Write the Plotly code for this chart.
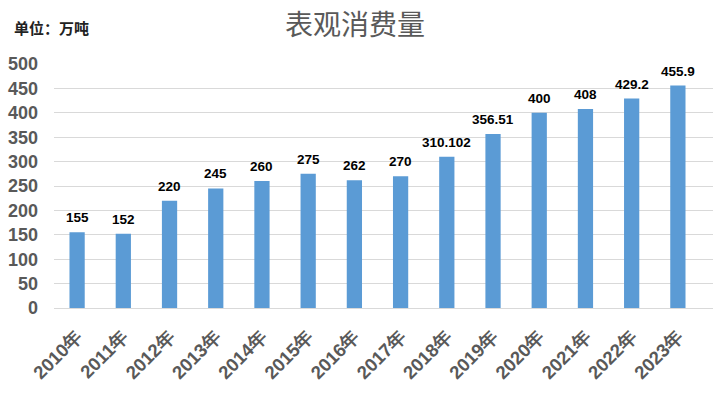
import plotly.graph_objects as go

years = ["2010年", "2011年", "2012年", "2013年", "2014年", "2015年", "2016年",
         "2017年", "2018年", "2019年", "2020年", "2021年", "2022年", "2023年"]
values = [155, 152, 220, 245, 260, 275, 262, 270, 310.102, 356.51, 400, 408, 429.2, 455.9]
labels = ["155", "152", "220", "245", "260", "275", "262", "270", "310.102",
          "356.51", "400", "408", "429.2", "455.9"]
y_ticks = [0, 50, 100, 150, 200, 250, 300, 350, 400, 450, 500]

fig = go.Figure()
fig.add_trace(go.Bar(
    x=years, y=values, marker_color="#5B9BD5", marker_line_width=0,
    width=0.33, hoverinfo="skip",
))

for xv, yv, t in zip(years, values, labels):
    fig.add_annotation(
        x=xv, y=yv, text="<b>%s</b>" % t, showarrow=False,
        yanchor="bottom", yshift=5,
        font=dict(family="Liberation Sans, Arial, sans-serif", size=13.5, color="#000000"),
    )

fig.add_annotation(
    xref="paper", yref="paper", x=0.457, y=1, xanchor="center", yanchor="middle",
    yshift=41, text="表观消费量", showarrow=False, borderpad=0,
    font=dict(family="Noto Sans CJK SC", size=28, color="#595959"),
)
fig.add_annotation(
    xref="paper", yref="paper", x=-0.063, y=1, xanchor="left", yanchor="middle",
    yshift=37, text="<b>单位：万吨</b>", showarrow=False,
    font=dict(family="Noto Sans CJK SC", size=15, color="#222222"),
)

fig.update_layout(
    width=713, height=399,
    margin=dict(l=54, r=0, t=64, b=91),
    paper_bgcolor="white", plot_bgcolor="white",
    showlegend=False,
    xaxis=dict(
        type="category", range=[-0.5, 13.76], tickangle=-45, automargin=False,
        showgrid=False, showline=False, ticks="", ticklabelstandoff=13,
        tickfont=dict(family="Liberation Sans, Arial, sans-serif", size=18.5,
                      color="#595959", weight="bold"),
    ),
    yaxis=dict(
        range=[0, 500], tickvals=y_ticks, automargin=False,
        showgrid=True, gridcolor="#D9D9D9", gridwidth=1,
        zeroline=True, zerolinecolor="#D9D9D9", zerolinewidth=1,
        showline=False, ticks="", ticklabelstandoff=15,
        tickfont=dict(family="Liberation Sans, Arial, sans-serif", size=18,
                      color="#595959", weight="bold"),
    ),
)

fig.write_html("out.html", config={"displayModeBar": False},
               post_script="document.body.style.margin='0';")
